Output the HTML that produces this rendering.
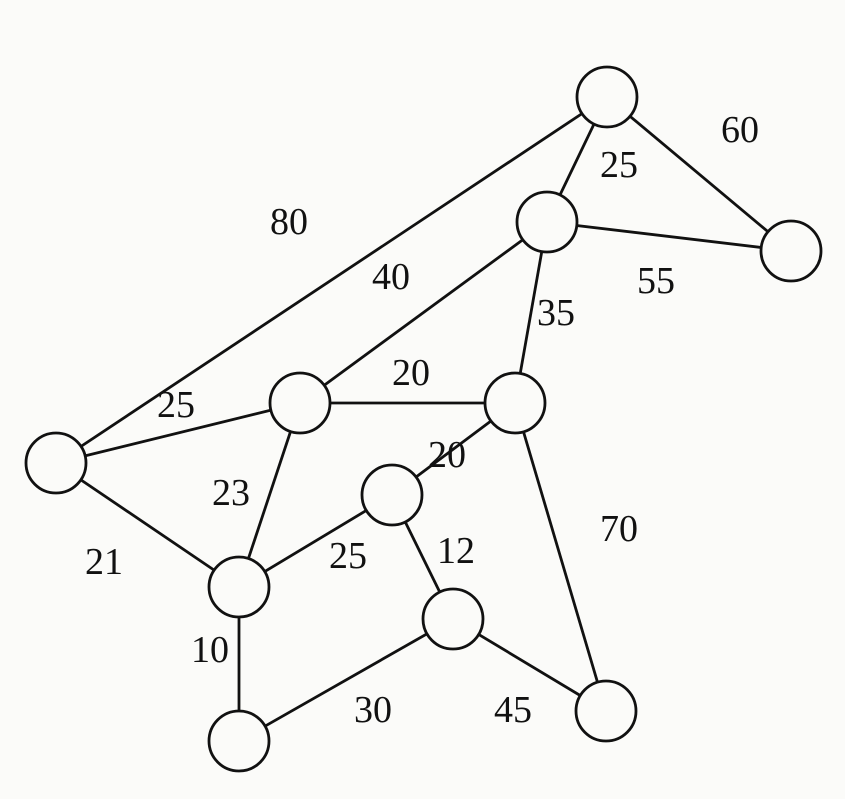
<!DOCTYPE html>
<html><head><meta charset="utf-8"><style>
html,body{margin:0;padding:0;background:#fbfbf9;}
svg{display:block;}
text{font-family:"Liberation Serif",serif;font-size:38px;fill:#111;text-anchor:middle;dominant-baseline:central;}
</style></head><body>
<svg width="845" height="799" viewBox="0 0 845 799" xmlns="http://www.w3.org/2000/svg">
<g stroke="#111" stroke-width="2.8" fill="none">
<line x1="607" y1="97" x2="547" y2="222"/>
<line x1="607" y1="97" x2="791" y2="251"/>
<line x1="607" y1="97" x2="56" y2="463"/>
<line x1="547" y1="222" x2="791" y2="251"/>
<line x1="547" y1="222" x2="300" y2="403"/>
<line x1="547" y1="222" x2="515" y2="403"/>
<line x1="300" y1="403" x2="515" y2="403"/>
<line x1="300" y1="403" x2="56" y2="463"/>
<line x1="300" y1="403" x2="239" y2="587"/>
<line x1="515" y1="403" x2="392" y2="495"/>
<line x1="515" y1="403" x2="606" y2="711"/>
<line x1="56" y1="463" x2="239" y2="587"/>
<line x1="392" y1="495" x2="239" y2="587"/>
<line x1="392" y1="495" x2="453" y2="619"/>
<line x1="239" y1="587" x2="239" y2="741"/>
<line x1="239" y1="741" x2="453" y2="619"/>
<line x1="453" y1="619" x2="606" y2="711"/>
</g>
<g stroke="#111" stroke-width="2.8" fill="#fbfbf9">
<circle cx="607" cy="97" r="30"/>
<circle cx="547" cy="222" r="30"/>
<circle cx="791" cy="251" r="30"/>
<circle cx="300" cy="403" r="30"/>
<circle cx="515" cy="403" r="30"/>
<circle cx="56" cy="463" r="30"/>
<circle cx="392" cy="495" r="30"/>
<circle cx="239" cy="587" r="30"/>
<circle cx="453" cy="619" r="30"/>
<circle cx="239" cy="741" r="30"/>
<circle cx="606" cy="711" r="30"/>
</g>
<text x="289" y="222">80</text>
<text x="740" y="130">60</text>
<text x="619" y="165">25</text>
<text x="656" y="281">55</text>
<text x="391" y="277">40</text>
<text x="556" y="313">35</text>
<text x="411" y="373">20</text>
<text x="176" y="405">25</text>
<text x="447" y="455">20</text>
<text x="231" y="493">23</text>
<text x="619" y="529">70</text>
<text x="104" y="562">21</text>
<text x="348" y="556">25</text>
<text x="456" y="551">12</text>
<text x="210" y="650">10</text>
<text x="373" y="710">30</text>
<text x="513" y="710">45</text>
</svg>
</body></html>
